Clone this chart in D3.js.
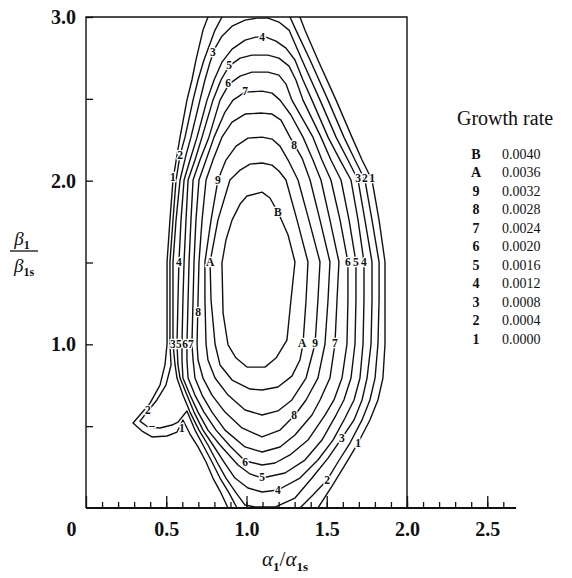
<!DOCTYPE html>
<html>
<head>
<meta charset="utf-8">
<script src="https://cdn.jsdelivr.net/npm/d3@7"></script>
<style>
  html, body { margin: 0; padding: 0; background: #fff; }
  svg { display: block; font-family: "Liberation Serif", "DejaVu Serif", serif; }
</style>
</head>
<body>
<div id="chart"></div>
<script>
// Legend: contour codes and the growth rate each one stands for
const levelCodes = ["B", "A", "9", "8", "7", "6", "5", "4", "3", "2", "1"];
const growthRates = ["0.0040", "0.0036", "0.0032", "0.0028", "0.0024", "0.0020",
                     "0.0016", "0.0012", "0.0008", "0.0004", "0.0000"];

// Axis ticks
const xTickValues = [0, 0.5, 1.0, 1.5, 2.0, 2.5];
const xTickLabels = ["0", "0.5", "1.0", "1.5", "2.0", "2.5"];
const yTickValues = [0.5, 1.0, 1.5, 2.0, 2.5, 3.0];
const yTickLabels = ["", "1.0", "", "2.0", "", "3.0"];

// Contour lines, [alpha1/alpha1s, beta1/beta1s]
// (1 and 2 leave the frame top and bottom, the clip hides that part)
const contour1 = [[1.05,3.13],[0.760,3.00],[0.729,2.920],[0.685,2.737],[0.660,2.615],[0.629,2.492],[0.586,2.266],[0.567,2.156],[0.542,2.004],[0.523,1.759],[0.505,1.503],[0.505,1.271],[0.505,1.002],[0.492,0.874],[0.461,0.751],[0.399,0.641],[0.336,0.568],[0.293,0.519],[0.349,0.470],[0.411,0.434],[0.505,0.440],[0.567,0.464],[0.604,0.538],[0.648,0.452],[0.698,0.373],[0.748,0.281],[0.791,0.183],[0.841,0.092],[0.885,0],[1.165,-0.134],[1.445,0],[1.533,0.134],[1.614,0.263],[1.695,0.397],[1.769,0.538],[1.819,0.660],[1.850,0.794],[1.863,1.002],[1.863,1.271],[1.863,1.503],[1.826,1.759],[1.782,2.004],[1.720,2.126],[1.657,2.266],[1.558,2.492],[1.445,2.737],[1.364,2.920],[1.333,3.00]];
const contour2 = [[1.06,3.10],[0.847,3.00],[0.804,2.920],[0.735,2.737],[0.698,2.615],[0.667,2.492],[0.617,2.266],[0.586,2.156],[0.561,2.004],[0.542,1.759],[0.523,1.503],[0.523,1.271],[0.523,1.002],[0.530,0.874],[0.498,0.751],[0.442,0.660],[0.386,0.593],[0.336,0.531],[0.386,0.495],[0.461,0.489],[0.536,0.507],[0.573,0.525],[0.629,0.593],[0.679,0.476],[0.729,0.385],[0.785,0.281],[0.835,0.183],[0.891,0.092],[0.941,0],[1.134,-0.086],[1.333,0],[1.414,0.079],[1.502,0.171],[1.570,0.281],[1.645,0.397],[1.720,0.538],[1.769,0.660],[1.801,0.794],[1.819,1.002],[1.826,1.271],[1.826,1.503],[1.782,1.759],[1.738,2.004],[1.676,2.126],[1.607,2.266],[1.508,2.492],[1.396,2.737],[1.308,2.920],[1.271,3.00]];
const contour3 = [[1.065,2.993],[0.991,2.981],[0.910,2.944],[0.847,2.883],[0.804,2.810],[0.773,2.724],[0.741,2.615],[0.710,2.492],[0.654,2.266],[0.623,2.156],[0.586,2.004],[0.561,1.759],[0.542,1.503],[0.542,1.271],[0.542,1.002],[0.555,0.874],[0.567,0.794],[0.604,0.690],[0.648,0.586],[0.704,0.476],[0.760,0.385],[0.816,0.281],[0.872,0.183],[0.935,0.092],[0.991,0.018],[1.053,0.006],[1.178,0.006],[1.302,0.061],[1.408,0.183],[1.508,0.305],[1.595,0.428],[1.670,0.538],[1.720,0.660],[1.751,0.794],[1.776,1.002],[1.782,1.271],[1.782,1.503],[1.738,1.759],[1.695,2.004],[1.632,2.126],[1.558,2.266],[1.458,2.492],[1.346,2.737],[1.265,2.920],[1.202,2.969],[1.134,2.993]];
const contour4 = [[1.059,2.877],[0.991,2.859],[0.910,2.804],[0.847,2.724],[0.798,2.615],[0.754,2.492],[0.692,2.266],[0.648,2.126],[0.611,2.004],[0.592,1.759],[0.579,1.503],[0.573,1.271],[0.567,1.002],[0.573,0.874],[0.586,0.794],[0.629,0.690],[0.673,0.586],[0.729,0.476],[0.791,0.385],[0.860,0.281],[0.928,0.183],[1.009,0.122],[1.097,0.098],[1.196,0.110],[1.333,0.183],[1.445,0.293],[1.539,0.415],[1.614,0.550],[1.670,0.660],[1.707,0.794],[1.726,1.002],[1.732,1.271],[1.732,1.503],[1.695,1.759],[1.651,2.004],[1.583,2.126],[1.508,2.266],[1.408,2.492],[1.352,2.615],[1.302,2.737],[1.246,2.810],[1.184,2.853],[1.121,2.877]];
const contour5 = [[1.034,2.767],[0.960,2.749],[0.891,2.700],[0.841,2.615],[0.791,2.492],[0.723,2.266],[0.679,2.126],[0.636,2.004],[0.623,1.759],[0.611,1.503],[0.604,1.271],[0.598,1.002],[0.598,0.904],[0.604,0.794],[0.648,0.690],[0.698,0.586],[0.760,0.476],[0.835,0.385],[0.947,0.263],[1.022,0.208],[1.097,0.183],[1.240,0.214],[1.364,0.293],[1.470,0.415],[1.558,0.568],[1.607,0.660],[1.651,0.794],[1.676,1.002],[1.682,1.271],[1.682,1.503],[1.639,1.759],[1.589,2.004],[1.526,2.126],[1.464,2.266],[1.352,2.492],[1.308,2.615],[1.265,2.700],[1.202,2.749],[1.134,2.767]];
const contour6 = [[1.034,2.663],[0.960,2.639],[0.891,2.590],[0.835,2.492],[0.766,2.266],[0.710,2.126],[0.667,2.004],[0.654,1.759],[0.642,1.503],[0.636,1.271],[0.629,1.002],[0.629,0.904],[0.636,0.794],[0.679,0.690],[0.735,0.586],[0.810,0.476],[0.897,0.379],[0.991,0.287],[1.097,0.263],[1.178,0.275],[1.271,0.324],[1.383,0.415],[1.489,0.568],[1.545,0.660],[1.595,0.794],[1.626,1.002],[1.632,1.271],[1.632,1.503],[1.583,1.759],[1.526,2.004],[1.470,2.126],[1.414,2.266],[1.283,2.492],[1.246,2.590],[1.202,2.645],[1.134,2.663]];
const contour7 = [[1.097,2.547],[0.991,2.541],[0.916,2.492],[0.866,2.419],[0.798,2.266],[0.748,2.126],[0.704,2.004],[0.685,1.759],[0.673,1.503],[0.667,1.271],[0.660,1.002],[0.667,0.904],[0.679,0.794],[0.723,0.690],[0.785,0.586],[0.866,0.476],[0.991,0.373],[1.097,0.342],[1.209,0.373],[1.302,0.446],[1.408,0.568],[1.458,0.660],[1.520,0.794],[1.551,1.002],[1.564,1.271],[1.576,1.503],[1.520,1.759],[1.464,2.004],[1.414,2.126],[1.352,2.266],[1.277,2.401],[1.209,2.492],[1.159,2.535]];
const contour8 = [[1.097,2.413],[0.991,2.407],[0.910,2.358],[0.847,2.266],[0.791,2.126],[0.748,2.004],[0.723,1.759],[0.704,1.503],[0.698,1.271],[0.692,1.002],[0.698,0.904],[0.729,0.794],[0.785,0.690],[0.866,0.586],[0.972,0.489],[1.097,0.434],[1.209,0.476],[1.302,0.568],[1.371,0.660],[1.445,0.794],[1.489,1.002],[1.508,1.271],[1.520,1.503],[1.458,1.759],[1.396,2.004],[1.346,2.138],[1.271,2.266],[1.215,2.370],[1.159,2.407]];
const contour9 = [[1.097,2.266],[1.009,2.260],[0.935,2.211],[0.872,2.126],[0.822,2.004],[0.779,1.759],[0.741,1.503],[0.741,1.271],[0.748,1.002],[0.760,0.904],[0.804,0.794],[0.885,0.690],[0.991,0.599],[1.097,0.568],[1.196,0.593],[1.283,0.660],[1.371,0.794],[1.427,1.002],[1.445,1.271],[1.458,1.503],[1.389,1.759],[1.321,2.004],[1.259,2.126],[1.209,2.211],[1.159,2.254]];
const contourA = [[1.097,2.108],[1.022,2.101],[0.960,2.065],[0.897,2.004],[0.822,1.759],[0.773,1.503],[0.779,1.271],[0.804,1.002],[0.835,0.874],[0.910,0.782],[1.022,0.727],[1.097,0.721],[1.196,0.739],[1.283,0.806],[1.333,0.904],[1.352,1.002],[1.371,1.271],[1.383,1.503],[1.315,1.759],[1.246,2.004],[1.202,2.059],[1.159,2.095]];
const contourB = [[1.097,1.930],[1.003,1.906],[0.960,1.857],[0.910,1.759],[0.872,1.637],[0.847,1.497],[0.854,1.191],[0.885,0.996],[0.935,0.916],[1.003,0.861],[1.115,0.861],[1.184,0.916],[1.252,1.026],[1.277,1.271],[1.302,1.503],[1.259,1.668],[1.196,1.808],[1.146,1.894]];

// Labels written on the lines: [text, alpha, beta]
const contourLabels = [
  ["3", 0.791, 2.786], ["4", 1.097, 2.877], ["5", 0.891, 2.706], ["6", 0.885, 2.596],
  ["7", 0.991, 2.547], ["2", 0.586, 2.156], ["1", 0.542, 2.022], ["9", 0.822, 2.004],
  ["8", 1.296, 2.217], ["B", 1.196, 1.808],
  ["3", 1.695, 2.016], ["2", 1.738, 2.016], ["1", 1.782, 2.016],
  ["4", 0.579, 1.503], ["A", 0.773, 1.503],
  ["6", 1.632, 1.503], ["5", 1.682, 1.503], ["4", 1.732, 1.503],
  ["8", 0.698, 1.197],
  ["3", 0.542, 1.002], ["5", 0.579, 1.002], ["6", 0.617, 1.002], ["7", 0.654, 1.002],
  ["A", 1.346, 1.008], ["9", 1.427, 1.008], ["7", 1.551, 1.008],
  ["2", 0.386, 0.599], ["\u2013", 0.411, 0.507], ["1", 0.598, 0.489],
  ["8", 1.296, 0.568], ["6", 0.991, 0.281], ["5", 1.097, 0.189], ["4", 1.196, 0.110],
  ["3", 1.595, 0.428], ["1", 1.695, 0.397], ["2", 1.502, 0.171]
];

const contours = [contour1, contour2, contour3, contour4, contour5, contour6,
                  contour7, contour8, contour9, contourA, contourB];

const width = 572, height = 578;

const svg = d3.select("#chart").append("svg")
  .attr("width", width)
  .attr("height", height)
  .attr("viewBox", `0 0 ${width} ${height}`);

svg.append("rect").attr("width", width).attr("height", height).attr("fill", "#fff");

const x = d3.scaleLinear().domain([0, 2]).range([86, 407]);
const y = d3.scaleLinear().domain([0, 3]).range([508, 17]);

// Clip to the frame
svg.append("clipPath").attr("id", "plot-clip")
  .append("rect")
  .attr("x", x(0)).attr("y", y(3))
  .attr("width", x(2) - x(0)).attr("height", y(0) - y(3));

const line = d3.line()
  .x(d => x(d[0]))
  .y(d => y(d[1]))
  .curve(d3.curveLinearClosed);

svg.append("g")
  .attr("clip-path", "url(#plot-clip)")
  .selectAll("path")
  .data(contours)
  .enter()
  .append("path")
  .attr("d", line)
  .attr("fill", "none")
  .attr("stroke", "#111")
  .attr("stroke-width", 1.4)
  .attr("stroke-linejoin", "round");

// Labels cut a gap into the lines
svg.append("g")
  .selectAll("text")
  .data(contourLabels)
  .enter()
  .append("text")
  .attr("x", d => x(d[1]))
  .attr("y", d => y(d[2]))
  .attr("dy", "0.35em")
  .attr("text-anchor", "middle")
  .attr("font-size", "11.5px")
  .attr("font-weight", "bold")
  .attr("fill", "#111")
  .attr("stroke", "#fff")
  .attr("stroke-width", 2.5)
  .attr("paint-order", "stroke")
  .text(d => d[0]);

// Frame: left, top, right
svg.append("path")
  .attr("d", `M${x(0)},${y(0)}V${y(3)}H${x(2)}V${y(0)}`)
  .attr("fill", "none")
  .attr("stroke", "#111")
  .attr("stroke-width", 1.4);

// Bottom axis runs past the frame
svg.append("line")
  .attr("x1", x(0)).attr("x2", x(2.68))
  .attr("y1", y(0)).attr("y2", y(0))
  .attr("stroke", "#111")
  .attr("stroke-width", 2);

const xMinorTicks = d3.range(1, 27).map(i => i / 10);

const xMinor = svg.append("g")
  .attr("transform", `translate(0,${y(0)})`)
  .call(d3.axisBottom(x).tickValues(xMinorTicks).tickSize(-6).tickSizeOuter(0).tickFormat(""));
xMinor.select(".domain").remove();

const xMajor = svg.append("g")
  .attr("transform", `translate(0,${y(0)})`)
  .call(d3.axisBottom(x).tickValues(xTickValues).tickSize(-12).tickSizeOuter(0)
    .tickPadding(14).tickFormat((d, i) => xTickLabels[i]));
xMajor.select(".domain").remove();
xMajor.selectAll("text")
  .attr("font-family", "'Liberation Serif', serif")
  .attr("font-size", "20px")
  .attr("font-weight", "bold")
  .attr("fill", "#111")
  .attr("dx", d => d === 0 ? -15 : 0);

const yAxis = svg.append("g")
  .attr("transform", `translate(${x(0)},0)`)
  .call(d3.axisLeft(y).tickValues(yTickValues).tickSize(-7).tickSizeOuter(0)
    .tickPadding(10).tickFormat((d, i) => yTickLabels[i]));
yAxis.select(".domain").remove();
yAxis.selectAll("text")
  .attr("font-family", "'Liberation Serif', serif")
  .attr("font-size", "20px")
  .attr("font-weight", "bold")
  .attr("fill", "#111");

svg.selectAll(".tick line").attr("stroke", "#111").attr("stroke-width", 1.3);

// Axis titles
const xTitle = svg.append("text")
  .attr("x", 285).attr("y", 566)
  .attr("text-anchor", "middle")
  .attr("font-size", "21px")
  .attr("fill", "#111");
xTitle.append("tspan").attr("font-style", "italic").text("\u03b1");
xTitle.append("tspan").attr("font-size", "13px").attr("font-weight", "bold").attr("dy", 5).text("1");
xTitle.append("tspan").attr("dy", -5).text("/");
xTitle.append("tspan").attr("font-style", "italic").text("\u03b1");
xTitle.append("tspan").attr("font-size", "13px").attr("font-weight", "bold").attr("dy", 5).text("1s");

const yTitle = svg.append("g").attr("transform", "translate(24,0)");
const num = yTitle.append("text").attr("x", -2).attr("y", 245)
  .attr("text-anchor", "middle").attr("font-size", "19px").attr("fill", "#111");
num.append("tspan").attr("font-style", "italic").text("\u03b2");
num.append("tspan").attr("font-size", "12px").attr("font-weight", "bold").attr("dy", 4).text("1");
yTitle.append("line").attr("x1", -14).attr("x2", 14).attr("y1", 251).attr("y2", 251)
  .attr("stroke", "#111").attr("stroke-width", 1.3);
const den = yTitle.append("text").attr("x", 0).attr("y", 272)
  .attr("text-anchor", "middle").attr("font-size", "19px").attr("fill", "#111");
den.append("tspan").attr("font-style", "italic").text("\u03b2");
den.append("tspan").attr("font-size", "12px").attr("font-weight", "bold").attr("dy", 4).text("1s");

// Legend
const legend = svg.append("g");
legend.append("text")
  .attr("x", 457).attr("y", 125)
  .attr("font-size", "20px")
  .attr("fill", "#111")
  .text("Growth rate");

const rows = legend.selectAll("g.row")
  .data(levelCodes)
  .enter()
  .append("g")
  .attr("class", "row")
  .attr("transform", (d, i) => `translate(0,${154 + i * 18.5})`);

rows.append("text")
  .attr("x", 476).attr("dy", "0.35em")
  .attr("text-anchor", "middle")
  .attr("font-size", "14px")
  .attr("font-weight", "bold")
  .attr("fill", "#111")
  .text(d => d);

rows.append("text")
  .attr("x", 502).attr("dy", "0.35em")
  .attr("font-size", "14px")
  .attr("fill", "#111")
  .text((d, i) => growthRates[i]);
</script>
</body>
</html>
